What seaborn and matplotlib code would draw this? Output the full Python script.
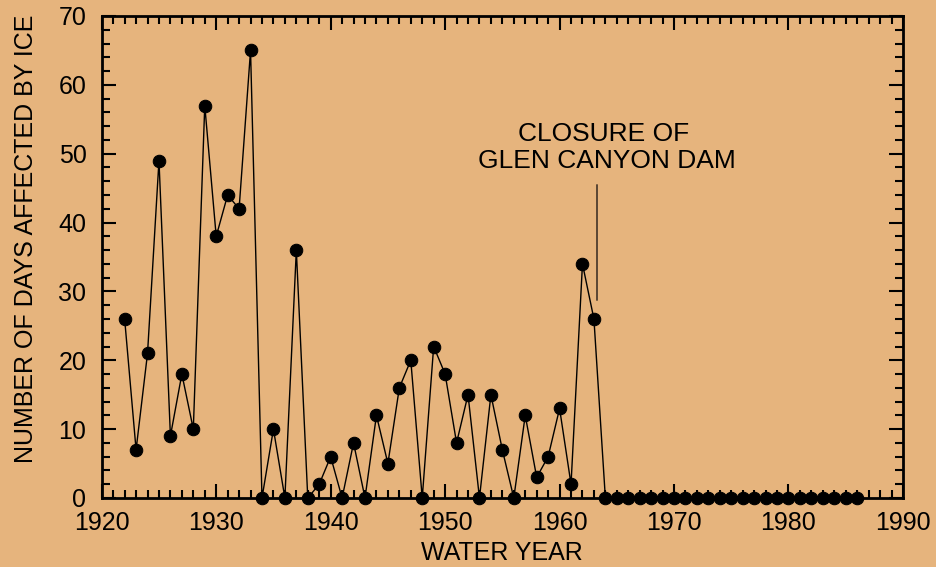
import matplotlib
matplotlib.use("Agg")
import matplotlib.pyplot as plt
import seaborn as sns
import pandas as pd
from matplotlib.ticker import MultipleLocator

years = list(range(1922, 1987))
days = [26, 7, 21, 49, 9, 18, 10, 57, 38, 44, 42, 65, 0, 10, 0, 36, 0, 2, 6, 0,
        8, 0, 12, 5, 16, 20, 0, 22, 18, 8, 15, 0, 15, 7, 0, 12, 3, 6, 13, 2,
        34, 26] + [0] * 23

annot_x = 1963.3
annot_y = [28.8, 45.5]
annot_lines = ["CLOSURE OF", "GLEN CANYON DAM"]

df = pd.DataFrame({"year": years, "days": days})

bg = "#E6B47D"
sns.set_theme(style="ticks")
plt.rcParams["font.family"] = ["Liberation Sans", "DejaVu Sans"]

fig = plt.figure(figsize=(9.36, 5.67), dpi=100, facecolor=bg)
ax = fig.add_axes([0.1087, 0.1217, 0.856, 0.8501])
ax.set_facecolor(bg)

sns.lineplot(data=df, x="year", y="days", ax=ax, color="black", linewidth=1.0,
             marker="o", markersize=9, markeredgecolor="black",
             markerfacecolor="black", clip_on=False, zorder=3)

ax.plot([annot_x, annot_x], annot_y, color="#5a4634", linewidth=1.4)
ax.text(1963.8, 51.9, annot_lines[0], ha="center", va="baseline", fontsize=19, color="black")
ax.text(1964.1, 47.9, annot_lines[1], ha="center", va="baseline", fontsize=19, color="black")

ax.set_xlim(1920, 1990)
ax.set_ylim(0, 70)
ax.xaxis.set_major_locator(MultipleLocator(10))
ax.xaxis.set_minor_locator(MultipleLocator(1))
ax.yaxis.set_major_locator(MultipleLocator(10))
ax.yaxis.set_minor_locator(MultipleLocator(2))
ax.tick_params(which="both", direction="in", top=True, right=True, colors="black",
               labelsize=18)
ax.tick_params(which="major", length=10, width=1.5)
ax.tick_params(which="minor", length=6, width=1.5)
ax.tick_params(axis="x", which="major", pad=9.5)
ax.tick_params(axis="y", which="major", pad=11)
for s in ax.spines.values():
    s.set_linewidth(2)
    s.set_color("black")

ax.set_xlabel("WATER YEAR", fontsize=18, labelpad=4, color="black")
ax.set_ylabel("NUMBER OF DAYS AFFECTED BY ICE", fontsize=18, color="black")
ax.yaxis.set_label_coords(-0.079, 0.537)

fig.savefig("out.png", dpi=100, facecolor=bg)
